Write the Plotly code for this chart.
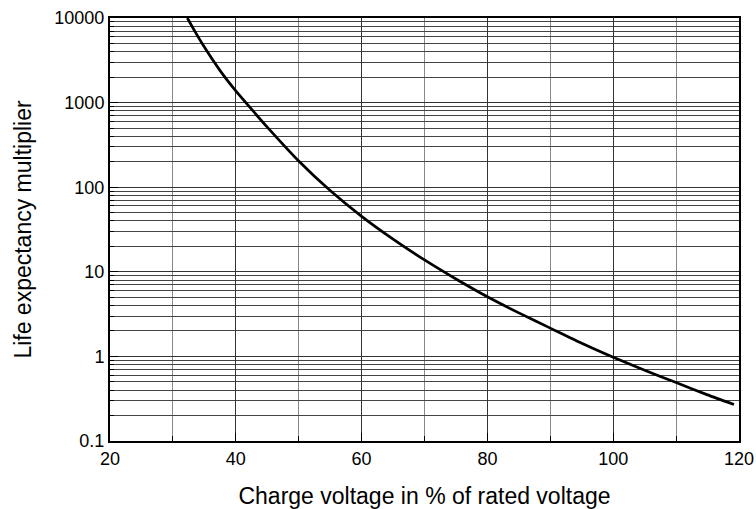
import plotly.graph_objects as go

voltage = [32.3, 33.5, 35, 37.5, 40, 42.5, 45, 50, 55, 60, 65, 70, 75, 80, 85, 90, 95, 100, 105, 110, 115, 119.2]
multiplier = [10000, 6950, 4530, 2390, 1374, 835, 513, 204, 91.2, 45.2, 24.3, 13.8, 8.22, 5.07, 3.27, 2.16, 1.43, 0.977, 0.684, 0.49, 0.351, 0.27]

x_ticks = [20, 40, 60, 80, 100, 120]
y_ticks = [0.1, 1, 10, 100, 1000, 10000]
y_labels = ["0.1", "1", "10", "100", "1000", "10000"]

fig = go.Figure()
fig.add_trace(go.Scatter(x=voltage, y=multiplier, mode="lines",
                         line=dict(color="black", width=2.7, shape="spline", smoothing=0.6),
                         showlegend=False))

font = dict(family="Liberation Sans, Arial, sans-serif", color="black")
fig.update_layout(
    width=756, height=509,
    margin=dict(l=110, r=17, t=18, b=68),
    paper_bgcolor="white", plot_bgcolor="white",
    font=font,
    xaxis=dict(range=[20, 120], tickvals=x_ticks, ticks="inside", ticklen=8,
               tickcolor="black", showline=True, linecolor="black", linewidth=2,
               mirror=True, showgrid=True, gridcolor="#333", gridwidth=1,
               minor=dict(dtick=10, showgrid=True, gridcolor="#888", ticks="inside",
                          ticklen=5, tickcolor="black"),
               tickfont=dict(size=18, **font), automargin=False,
               title=dict(text="Charge voltage in % of rated voltage", font=dict(size=23, **font), standoff=20),
               zeroline=False),
    yaxis=dict(type="log", range=[-1, 4], tickvals=y_ticks, ticktext=y_labels,
               ticks="inside", ticklen=8, tickcolor="black",
               showline=True, linecolor="black", linewidth=2, mirror=True,
               showgrid=True, gridcolor="#333", gridwidth=1,
               minor=dict(dtick="D1", showgrid=True, gridcolor="#444", ticks="inside",
                          ticklen=4, tickcolor="black"),
               tickfont=dict(size=18, **font), automargin=False,
               title=dict(text="Life expectancy multiplier", font=dict(size=23, **font), standoff=16),
               zeroline=False),
)
fig.write_html("out.html", config={"displayModeBar": False},
               post_script="document.body.style.margin='0';")
